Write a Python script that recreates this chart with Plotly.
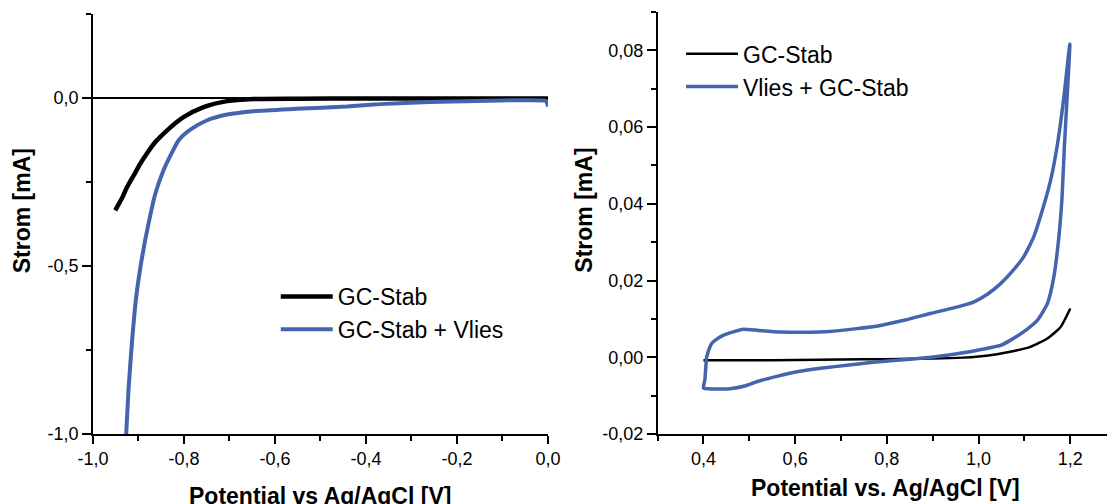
import plotly.graph_objects as go

# left chart: cathodic scan (Potential vs Ag/AgCl [V], Strom [mA])
left_v_gc = [-0.951, -0.937, -0.925, -0.910, -0.896, -0.880, -0.863, -0.837, -0.801, -0.757,
             -0.705, -0.647, -0.550, -0.400, -0.200, 0.000]
left_i_gc = [-0.334, -0.300, -0.265, -0.229, -0.195, -0.162, -0.131, -0.096, -0.057, -0.027,
             -0.009, -0.003, -0.002, -0.001, -0.001, -0.001]

left_v_vlies = [-0.929, -0.927, -0.922, -0.914, -0.905, -0.892, -0.878, -0.863, -0.845,
                -0.826, -0.812, -0.786, -0.749, -0.705, -0.647, -0.552, -0.442, -0.369,
                -0.262, -0.105, -0.010, -0.004, 0.000]
left_i_vlies = [-1.030, -0.999, -0.870, -0.721, -0.592, -0.473, -0.374, -0.285, -0.215,
                -0.161, -0.126, -0.094, -0.066, -0.049, -0.039, -0.032, -0.025, -0.018,
                -0.012, -0.007, -0.007, -0.009, -0.025]

# right chart: CV between 0.4 and 1.2 V
right_v_gc = [0.400, 0.500, 0.600, 0.700, 0.800, 0.900, 0.967, 1.000, 1.040, 1.080,
              1.113, 1.150, 1.179, 1.200]
right_i_gc = [-0.0008, -0.0008, -0.0007, -0.0006, -0.0005, -0.0003, -0.0001, 0.0002, 0.0008,
              0.0017, 0.0027, 0.0049, 0.0079, 0.0127]

right_v_vlies = [0.400, 0.403, 0.405, 0.407, 0.412, 0.418, 0.430, 0.443, 0.465, 0.487,
                 0.520, 0.567, 0.620, 0.676, 0.730, 0.786, 0.840, 0.895, 0.950, 0.989,
                 1.020, 1.048, 1.069, 1.098, 1.120, 1.139, 1.157, 1.171, 1.186, 1.199,
                 1.193, 1.187, 1.182, 1.175, 1.164, 1.150, 1.128, 1.098, 1.069, 1.048,
                 1.000, 0.931, 0.880, 0.822, 0.770, 0.713, 0.660, 0.604, 0.560, 0.516,
                 0.490, 0.458, 0.430, 0.410, 0.400]
right_i_vlies = [-0.0080, -0.0060, -0.0030, 0.0000, 0.0020, 0.0036, 0.0048, 0.0057, 0.0066, 0.0073,
                 0.0070, 0.0066, 0.0065, 0.0067, 0.0074, 0.0083, 0.0097, 0.0114, 0.0130, 0.0144,
                 0.0165, 0.0192, 0.0218, 0.0261, 0.0313, 0.0383, 0.0461, 0.0548, 0.0678, 0.0817,
                 0.0678, 0.0548, 0.0418, 0.0313, 0.0209, 0.0140, 0.0096, 0.0066, 0.0044, 0.0031,
                 0.0019, 0.0005, -0.0002, -0.0008, -0.0013, -0.0021, -0.0028, -0.0038, -0.0050, -0.0064,
                 -0.0075, -0.0082, -0.0083, -0.0082, -0.0080]

# tick labels (decimal comma, plain hyphen)
left_x_ticks = [-1.0, -0.8, -0.6, -0.4, -0.2, 0.0]
left_x_labels = ['-1,0', '-0,8', '-0,6', '-0,4', '-0,2', '0,0']
left_y_ticks = [-1.0, -0.5, 0.0]
left_y_labels = ['-1,0', '-0,5', '0,0']
right_x_ticks = [0.4, 0.6, 0.8, 1.0, 1.2]
right_x_labels = ['0,4', '0,6', '0,8', '1,0', '1,2']
right_y_ticks = [-0.02, 0.0, 0.02, 0.04, 0.06, 0.08]
right_y_labels = ['-0,02', '0,00', '0,02', '0,04', '0,06', '0,08']

blue = '#4464AD'
font = 'Liberation Sans, Arial, sans-serif'

fig = go.Figure()

# left panel traces
fig.add_trace(go.Scatter(x=left_v_gc, y=left_i_gc, mode='lines', name='GC-Stab',
                         line=dict(color='black', width=4.5, shape='spline', smoothing=0.6),
                         xaxis='x', yaxis='y', legend='legend'))
fig.add_trace(go.Scatter(x=left_v_vlies, y=left_i_vlies, mode='lines', name='GC-Stab + Vlies',
                         line=dict(color=blue, width=4, shape='spline', smoothing=0.6),
                         xaxis='x', yaxis='y', legend='legend'))

# right panel traces
fig.add_trace(go.Scatter(x=right_v_gc, y=right_i_gc, mode='lines', name='GC-Stab',
                         line=dict(color='black', width=2.5, shape='spline', smoothing=0.5),
                         xaxis='x2', yaxis='y2', legend='legend2'))
fig.add_trace(go.Scatter(x=right_v_vlies, y=right_i_vlies, mode='lines', name='Vlies + GC-Stab',
                         line=dict(color=blue, width=3.5, shape='spline', smoothing=0.5),
                         xaxis='x2', yaxis='y2', legend='legend2'))

# shared axis look
line_style = dict(showline=True, linecolor='black', linewidth=1.5, showgrid=False,
                  tickcolor='black', tickwidth=1.5, automargin=False,
                  tickfont=dict(family=font, size=18, color='black'))
minor_out = dict(ticks='outside', ticklen=5, tickcolor='black', tickwidth=1.5)

fig.update_layout(
    width=1107, height=504,
    margin=dict(l=0, r=0, t=0, b=0),
    paper_bgcolor='white', plot_bgcolor='white',
    font=dict(family=font, color='black'),
    # left panel
    xaxis=dict(domain=[0.084, 0.495], range=[-1, 0], anchor='y', ticks='outside', ticklen=8,
               tickvals=left_x_ticks, ticktext=left_x_labels, zeroline=False,
               minor=dict(dtick=0.1, tick0=0, **minor_out), **line_style),
    yaxis=dict(domain=[0.139, 0.972], range=[-1, 0.25], anchor='x', ticks='outside', ticklen=9,
               tickvals=left_y_ticks, ticktext=left_y_labels, zeroline=True, zerolinecolor='black',
               zerolinewidth=1.5, minor=dict(dtick=0.25, tick0=0, **minor_out), **line_style),
    xaxis3=dict(overlaying='x', side='top', anchor='y', range=[-1, 0], ticks='inside', ticklen=8,
                dtick=0.1, tick0=0, showticklabels=False, zeroline=False, **line_style),
    yaxis3=dict(overlaying='y', side='right', anchor='x', range=[-1, 0.25], ticks='inside', ticklen=8,
                dtick=0.25, tick0=0, showticklabels=False, zeroline=False, **line_style),
    # right panel
    xaxis2=dict(domain=[0.594, 1.0], range=[0.3, 1.28], anchor='y2', ticks='outside', ticklen=8,
                tickvals=right_x_ticks, ticktext=right_x_labels, zeroline=False,
                minor=dict(dtick=0.1, tick0=0, **minor_out), **line_style),
    yaxis2=dict(domain=[0.139, 0.976], range=[-0.02, 0.09], anchor='x2', ticks='outside', ticklen=9,
                tickvals=right_y_ticks, ticktext=right_y_labels, zeroline=False,
                minor=dict(dtick=0.01, tick0=0, **minor_out), **line_style),
    xaxis4=dict(overlaying='x2', side='top', anchor='y2', range=[0.3, 1.28], ticks='inside', ticklen=8,
                dtick=0.1, tick0=0, showticklabels=False, zeroline=False, **line_style),
    legend=dict(x=0.2491, y=0.4545, xanchor='left', yanchor='top', bgcolor='rgba(0,0,0,0)',
                itemwidth=52, font=dict(family=font, size=23, color='black')),
    legend2=dict(x=0.6152, y=0.936, xanchor='left', yanchor='top', bgcolor='rgba(0,0,0,0)',
                 itemwidth=52, font=dict(family=font, size=23, color='black')),
    annotations=[
        dict(text='<b>Strom [mA]</b>', x=0.02, y=0.581, xref='paper', yref='paper', textangle=-90,
             showarrow=False, xanchor='center', yanchor='middle', font=dict(size=23)),
        dict(text='<b>Strom [mA]</b>', x=0.528, y=0.583, xref='paper', yref='paper', textangle=-90,
             showarrow=False, xanchor='center', yanchor='middle', font=dict(size=23)),
        dict(text='<b>Potential vs Ag/AgCl [V]</b>', x=0.289, y=0.016, xref='paper', yref='paper',
             showarrow=False, xanchor='center', yanchor='middle', font=dict(size=23)),
        dict(text='<b>Potential vs. Ag/AgCl [V]</b>', x=0.8, y=0.032, xref='paper', yref='paper',
             showarrow=False, xanchor='center', yanchor='middle', font=dict(size=23)),
    ],
)

# page body has a default margin, remove it so the chart sits at the window corner
fig.write_html("out.html", config={'displayModeBar': False},
               post_script="document.body.style.margin='0';")
